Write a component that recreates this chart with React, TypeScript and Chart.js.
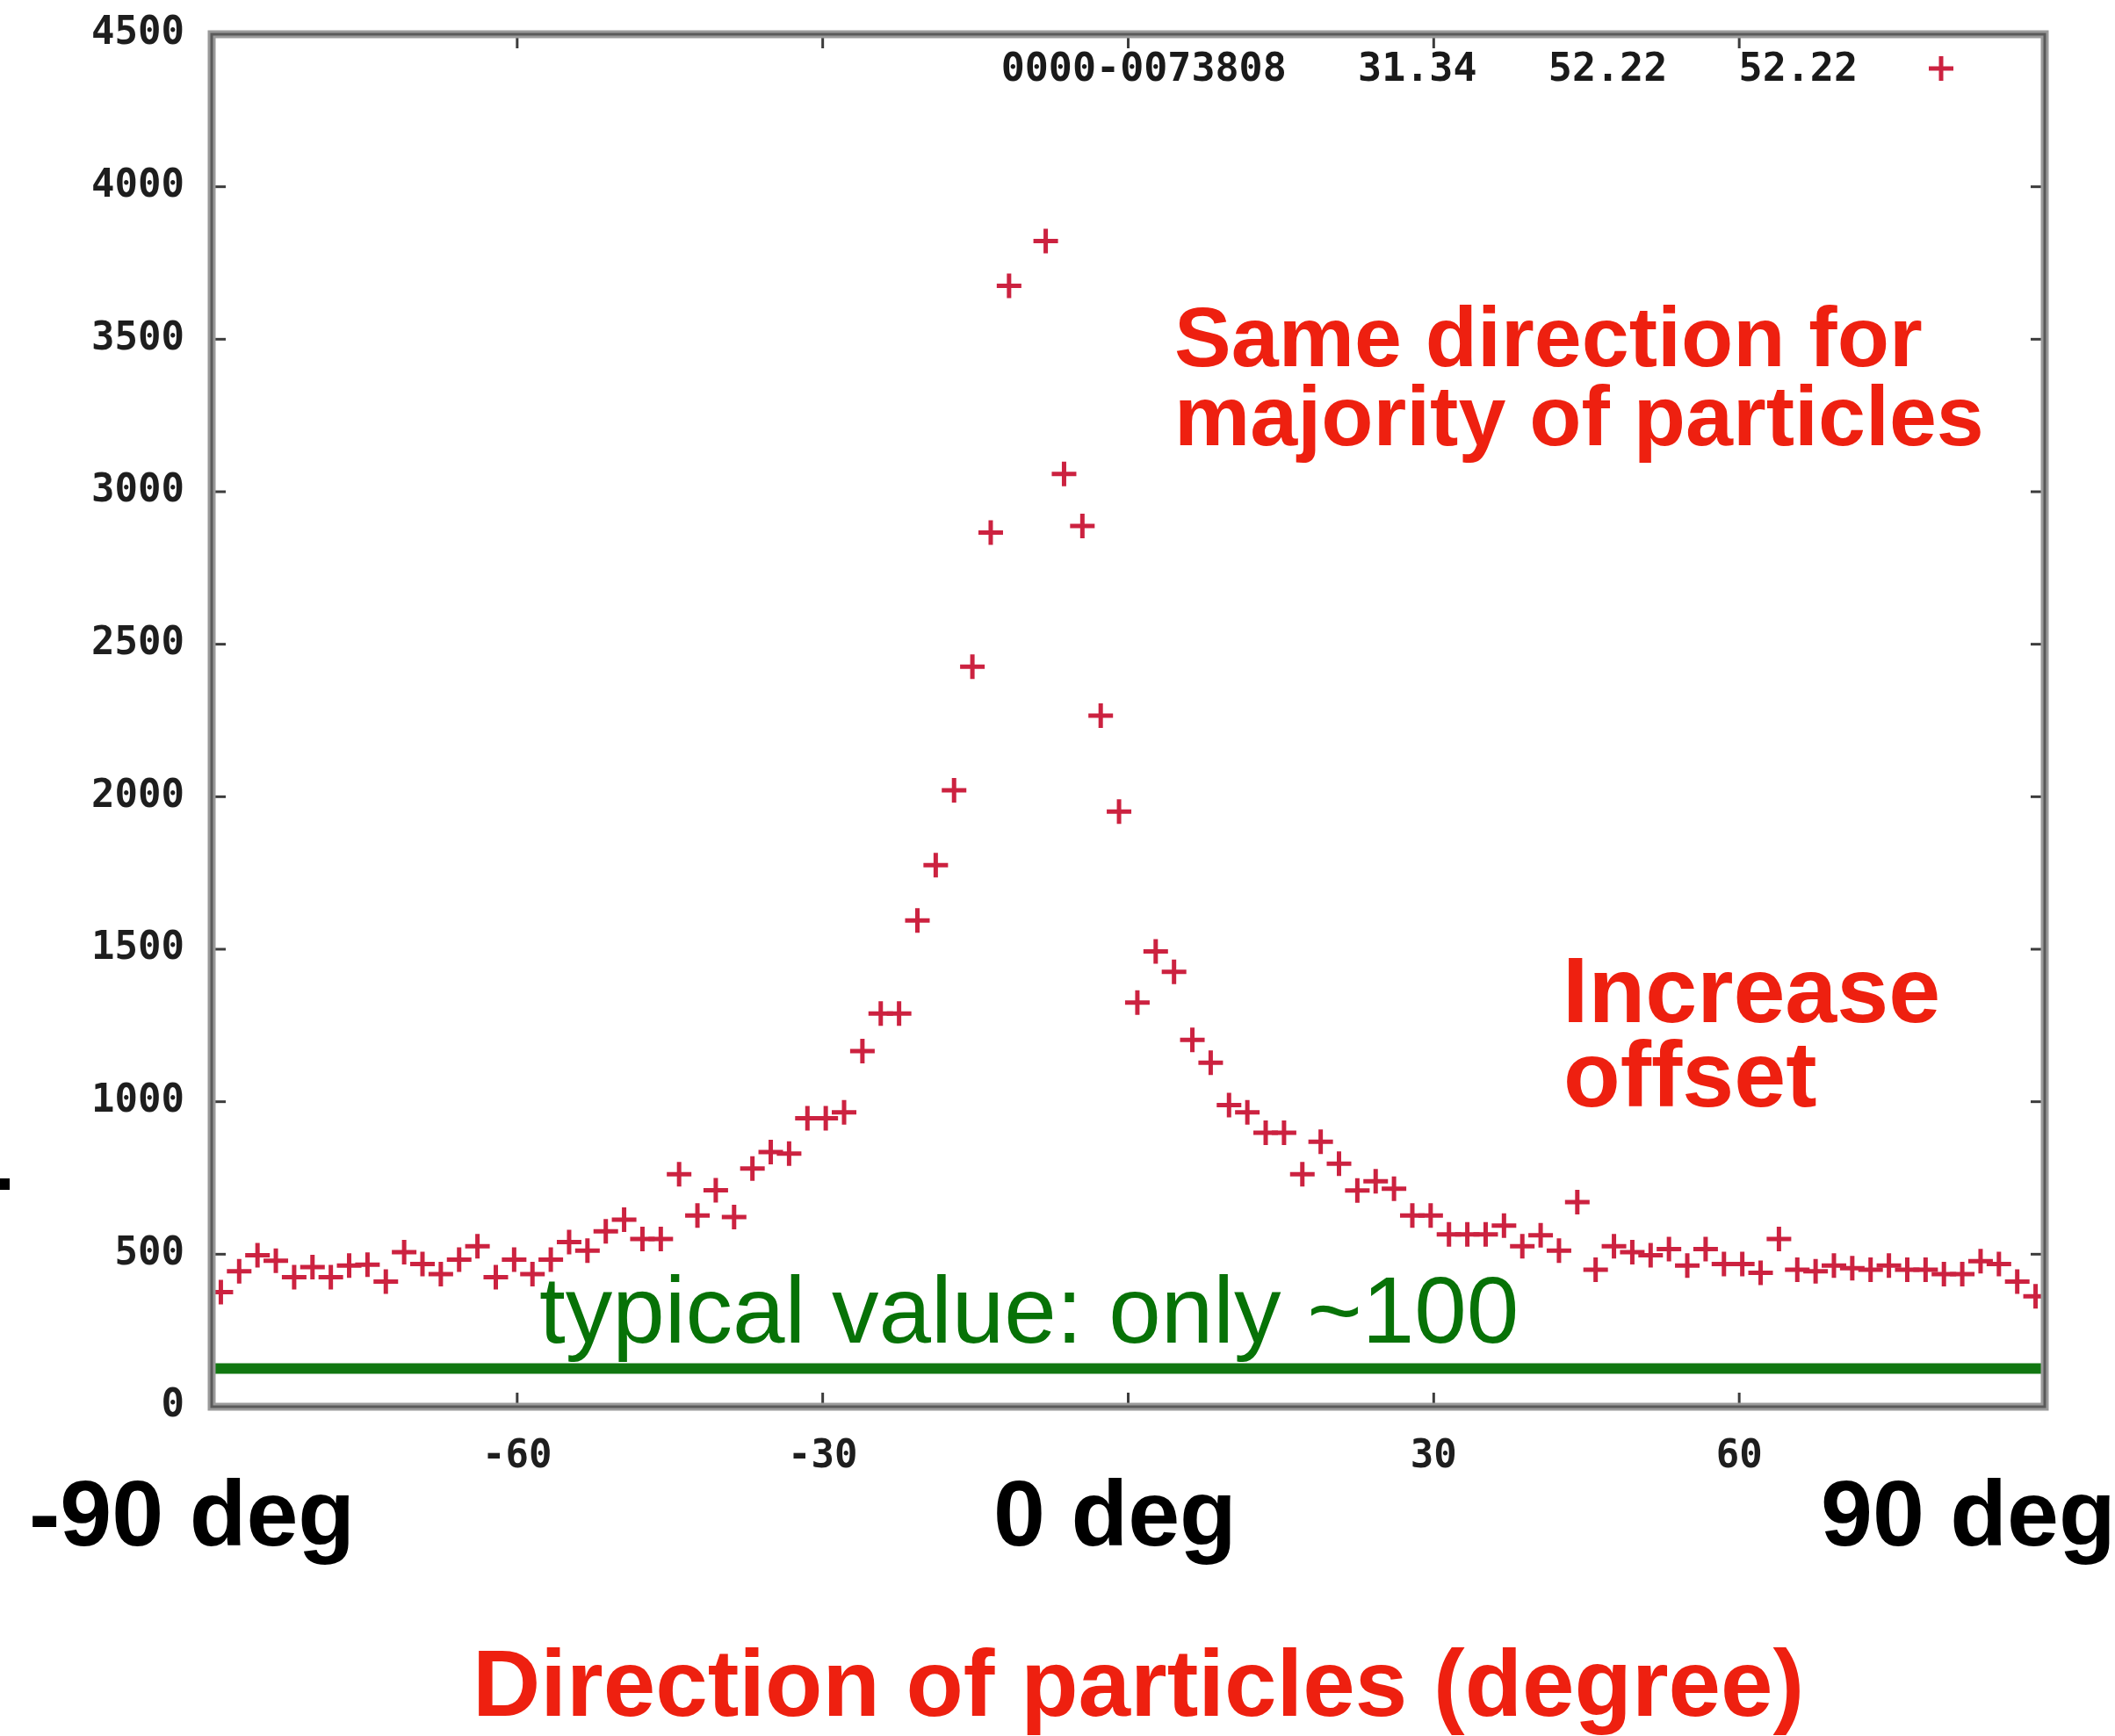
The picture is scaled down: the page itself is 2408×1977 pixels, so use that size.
import React, { useEffect, useRef } from 'react';
import { Chart, registerables } from 'chart.js';

Chart.register(...registerables);

// ---- data ----
const angles = [
  -89.1, -87.3, -85.5, -83.7, -81.9, -80.1, -78.3, -76.5, -74.7, -72.9,
  -71.1, -69.3, -67.5, -65.7, -63.9, -62.1, -60.3, -58.5, -56.7, -54.9,
  -53.1, -51.3, -49.5, -47.7, -45.9, -44.1, -42.3, -40.5, -38.7, -36.9,
  -35.1, -33.3, -31.5, -29.7, -27.9, -26.1, -24.3, -22.5, -20.7, -18.9,
  -17.1, -15.3, -13.5, -11.7, -9.9, -8.1, -6.3, -4.5, -2.7, -0.9,
  0.9, 2.7, 4.5, 6.3, 8.1, 9.9, 11.7, 13.5, 15.3, 17.1,
  18.9, 20.7, 22.5, 24.3, 26.1, 27.9, 29.7, 31.5, 33.3, 35.1,
  36.9, 38.7, 40.5, 42.3, 44.1, 45.9, 47.7, 49.5, 51.3, 53.1,
  54.9, 56.7, 58.5, 60.3, 62.1, 63.9, 65.7, 67.5, 69.3, 71.1,
  72.9, 74.7, 76.5, 78.3, 80.1, 81.9, 83.7, 85.5, 87.3, 89.1,
];

const counts: (number | null)[] = [
  376, 444, 497, 479, 425, 458, 425, 463, 466, 410,
  507, 468, 435, 482, 526, 425, 482, 435, 482, 540,
  512, 575, 613, 550, 550, 762, 627, 710, 622, 781,
  835, 830, 946, 946, 965, 1166, 1289, 1289, 1594, 1776,
  2021, 2426, 2866, 3675, null, 3822, 3058, 2888, 2266, 1951,
  1325, 1493, 1426, 1203, 1128, 989, 965, 898, 898, 762,
  869, 797, 709, 739, 715, 627, 627, 565, 565, 565,
  594, 526, 562, 512, 671, 449, 526, 507, 497, 517,
  463, 517, 468, 468, 439, 550, 449, 444, 463, 454,
  449, 463, 449, 449, 435, 435, 477, 468, 410, 362,
];

const typicalX = [-90, 90];
const typicalY = [125, 125];

const xLabeledTicks = [-60, -30, 30, 60];
const legendText = '0000-0073808   31.34   52.22   52.22';

const X_MIN = -90;
const X_MAX = 90;
const X_STEP = 30;
const Y_MIN = 0;
const Y_MAX = 4500;
const Y_STEP = 500;

const RED = '#ee2010';
const POINT_COLOR = '#cc2240';
const GREEN_TEXT = '#077207';
const GREEN_LINE = '#117711';
const MONO = '"DejaVu Sans Mono", "Liberation Mono", monospace';
const SANS = '"Liberation Sans", Arial, Helvetica, sans-serif';

const gnuFrame = {
  id: 'gnuFrame',
  afterDatasetsDraw(chart: any) {
    const { ctx, chartArea: a, scales } = chart;
    const xs = scales.x;
    const ys = scales.y;
    ctx.save();
    const seg = (x1: number, y1: number, x2: number, y2: number) => {
      ctx.beginPath();
      ctx.moveTo(x1, y1);
      ctx.lineTo(x2, y2);
      ctx.stroke();
    };
    // inward ticks (mirrored on all four sides)
    const L = 16;
    ctx.strokeStyle = '#3c3c3c';
    ctx.lineWidth = 3;
    xs.ticks.forEach((t: any) => {
      const px = xs.getPixelForValue(t.value);
      if (px <= a.left + 2 || px >= a.right - 2) return;
      seg(px, a.bottom, px, a.bottom - L);
      seg(px, a.top, px, a.top + L);
    });
    ys.ticks.forEach((t: any) => {
      const py = ys.getPixelForValue(t.value);
      if (py <= a.top + 2 || py >= a.bottom - 2) return;
      seg(a.left, py, a.left + L, py);
      seg(a.right, py, a.right - L, py);
    });
    // frame
    ctx.strokeStyle = '#9a9a9a';
    ctx.lineWidth = 9;
    ctx.strokeRect(a.left, a.top, a.right - a.left, a.bottom - a.top);
    ctx.strokeStyle = '#5a5a5a';
    ctx.lineWidth = 3;
    ctx.strokeRect(a.left, a.top, a.right - a.left, a.bottom - a.top);

    // gnuplot-style key inside the plot, text left of the marker
    const ky = a.top + 41;
    ctx.fillStyle = '#1a1a1a';
    ctx.font = `bold 45px ${MONO}`;
    ctx.textAlign = 'right';
    ctx.textBaseline = 'middle';
    ctx.fillText(legendText, a.right - 213, ky);
    const mx = a.right - 118;
    const r = 14;
    ctx.strokeStyle = POINT_COLOR;
    ctx.lineWidth = 5;
    seg(mx - r, ky - 2, mx + r, ky - 2);
    seg(mx, ky - 2 - r, mx, ky - 2 + r);
    ctx.restore();
  },
};

function Txt(props: { text: string; left: number; baseline: number; size: number; color: string; bold?: boolean }) {
  const { text, left, baseline, size, color, bold } = props;
  return (
    <div
      style={{
        position: 'absolute',
        left,
        top: baseline - 0.8465 * size,
        fontFamily: SANS,
        fontSize: size,
        lineHeight: `${size}px`,
        fontWeight: bold ? 700 : 400,
        color,
        whiteSpace: 'pre',
      }}
    >
      {text}
    </div>
  );
}

export default function App() {
  const canvasRef = useRef<HTMLCanvasElement | null>(null);

  useEffect(() => {
    if (!canvasRef.current) return;
    const points = angles.map((x, i) => ({ x, y: counts[i] }));
    const typical = typicalX.map((x, i) => ({ x, y: typicalY[i] }));
    const chart = new Chart(canvasRef.current, {
      type: 'scatter',
      data: {
        datasets: [
          {
            label: 'typical',
            data: typical,
            showLine: true,
            borderColor: GREEN_LINE,
            borderWidth: 12,
            pointRadius: 0,
            pointHoverRadius: 0,
          } as any,
          {
            label: legendText,
            data: points as any,
            pointStyle: 'cross',
            pointRadius: 14,
            pointHoverRadius: 14,
            borderColor: POINT_COLOR,
            backgroundColor: POINT_COLOR,
            pointBorderWidth: 5,
            borderWidth: 5,
          } as any,
        ],
      },
      options: {
        responsive: false,
        animation: false,
        events: [],
        layout: { padding: { left: 91, right: 80, top: 39, bottom: 275 } },
        plugins: {
          legend: { display: false },
          tooltip: { enabled: false },
          title: { display: false },
        },
        scales: {
          x: {
            type: 'linear',
            min: X_MIN,
            max: X_MAX,
            border: { display: false },
            grid: { display: false, drawTicks: false },
            afterFit: (s: any) => {
              s.height = 100;
              s.paddingLeft = 0;
              s.paddingRight = 0;
            },
            ticks: {
              stepSize: X_STEP,
              padding: 31,
              color: '#1e1e1e',
              font: { family: MONO, size: 44, weight: 'bold' },
              callback: (v: any) => (xLabeledTicks.includes(Number(v)) ? String(v) : ''),
            },
          },
          y: {
            type: 'linear',
            min: Y_MIN,
            max: Y_MAX,
            border: { display: false },
            grid: { display: false, drawTicks: false },
            afterFit: (s: any) => {
              s.width = 150;
              s.paddingTop = 0;
              s.paddingBottom = 0;
            },
            ticks: {
              stepSize: Y_STEP,
              padding: 31,
              color: '#1e1e1e',
              font: { family: MONO, size: 44, weight: 'bold' },
              callback: (v: any) => String(v),
            },
          },
        },
      },
      plugins: [gnuFrame],
    });
    return () => chart.destroy();
  }, []);

  return (
    <div style={{ position: 'absolute', left: 0, top: 0, width: 2408, height: 1977, background: '#ffffff', overflow: 'hidden' }}>
      <canvas ref={canvasRef} width={2408} height={1977} style={{ position: 'absolute', left: 0, top: 0, width: 2408, height: 1977 }} />
      <Txt text="Same direction for" left={1337} baseline={417} size={97} color={RED} bold />
      <Txt text="majority of particles" left={1337} baseline={507} size={97} color={RED} bold />
      <Txt text="Increase" left={1779} baseline={1164} size={106} color={RED} bold />
      <Txt text="offset" left={1780} baseline={1260} size={106} color={RED} bold />
      <Txt text="typical value: only ~100" left={614} baseline={1530} size={107} color={GREEN_TEXT} />
      <Txt text="-90 deg" left={33} baseline={1760} size={106} color="#000000" bold />
      <Txt text="0 deg" left={1131} baseline={1760} size={106} color="#000000" bold />
      <Txt text="90 deg" left={2073} baseline={1760} size={106} color="#000000" bold />
      <Txt text="Direction of particles (degree)" left={538} baseline={1955} size={107} color={RED} bold />
      <div style={{ position: 'absolute', left: 0, top: 1342, width: 11, height: 13, background: '#000000' }} />
    </div>
  );
}
